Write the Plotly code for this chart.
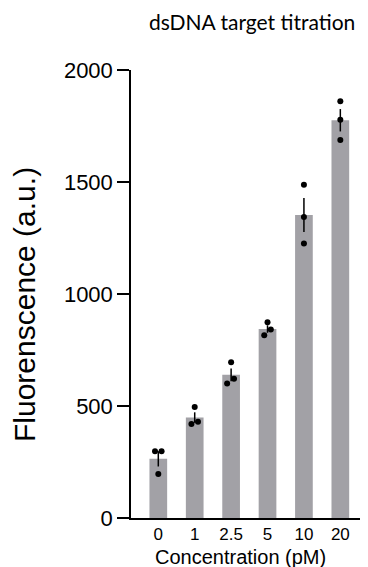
import numpy as np
import plotly.graph_objects as go

categories = ["0", "1", "2.5", "5", "10", "20"]
rep1 = [298, 495, 695, 874, 1488, 1861]
rep2 = [298, 420, 600, 841, 1344, 1778]
rep3 = [196, 430, 622, 816, 1226, 1688]
y_ticks = [0, 500, 1000, 1500, 2000]

# horizontal jitter of the replicate dots (category units) - styling only
jit1 = [-0.09, 0.0, 0.0, 0.0, 0.0, 0.0]
jit2 = [0.09, -0.09, -0.11, 0.09, 0.0, 0.0]
jit3 = [0.0, 0.09, 0.08, -0.09, 0.0, 0.0]

reps = np.array([rep1, rep2, rep3], dtype=float)
means = reps.mean(axis=0)
sem = reps.std(axis=0, ddof=1) / np.sqrt(reps.shape[0])
idx = np.arange(len(categories))

# page has an 8px body margin; the figure is sized to fill the rest
OFF = 8
W, H = 368 - OFF, 567 - OFF
pl, pr, pt, pb = 131 - OFF, 0, 70 - OFF, 567 - 518
pw, ph = W - pl - pr, H - pt - pb


def px2paper(px, py):
    return (px - OFF - pl) / pw, (H - pb - (py - OFF)) / ph


fig = go.Figure()
fig.add_trace(go.Bar(
    x=idx, y=means, width=0.486,
    marker=dict(color="#a2a1a6", line=dict(width=0)),
    error_y=dict(type="data", array=sem, visible=True, color="black",
                 thickness=1.5, width=0),
    showlegend=False, hoverinfo="skip",
))
for r, j in zip([rep1, rep2, rep3], [jit1, jit2, jit3]):
    fig.add_trace(go.Scatter(
        x=idx + np.array(j), y=r, mode="markers",
        marker=dict(color="black", size=6),
        showlegend=False, cliponaxis=False,
    ))

tx, ty = px2paper(252, 22)
yx, yy = px2paper(24, 305)
xx, xy = px2paper(240, 557)

fig.update_layout(
    width=W, height=H,
    margin=dict(l=pl, r=pr, t=pt, b=pb, autoexpand=False),
    paper_bgcolor="white", plot_bgcolor="white",
    font=dict(family="Liberation Sans, Arial, sans-serif", color="black"),
    xaxis=dict(range=[-0.75, 5.76], tickvals=list(idx), ticktext=categories,
               showgrid=False, zeroline=False, showline=True,
               linecolor="black", linewidth=1.5, ticks="",
               tickfont=dict(size=17)),
    yaxis=dict(range=[0, 2000], tickvals=y_ticks, showgrid=False,
               zeroline=False, showline=True, linecolor="black",
               linewidth=1.5, ticks="outside", ticklen=12, tickwidth=1.5,
               tickcolor="black", tickfont=dict(size=22)),
    annotations=[
        dict(text="dsDNA target titration", x=tx, y=ty, xref="paper",
             yref="paper", xanchor="center", yanchor="middle",
             showarrow=False,
             font=dict(family="Lato, Open Sans, sans-serif", size=21)),
        dict(text="Fluorenscence (a.u.)", textangle=-90, x=yx, y=yy,
             xref="paper", yref="paper", xanchor="center", yanchor="middle",
             showarrow=False, font=dict(size=30)),
        dict(text="Concentration (pM)", x=xx, y=xy, xref="paper",
             yref="paper", xanchor="center", yanchor="middle",
             showarrow=False, font=dict(size=20)),
    ],
)

fig.write_html("out.html")
